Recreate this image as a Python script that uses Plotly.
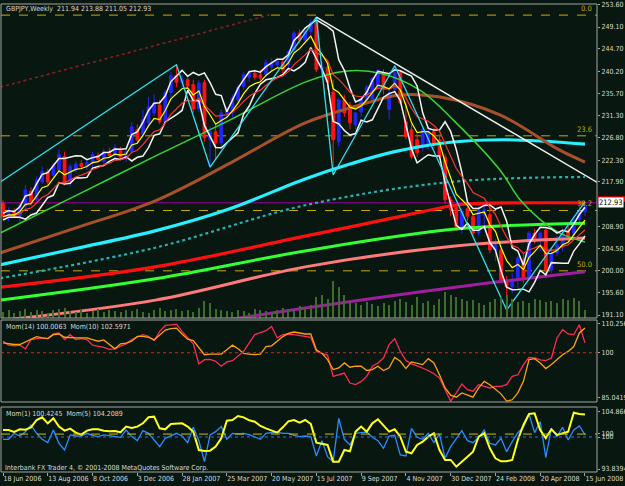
import plotly.graph_objects as go
import pandas as pd

# ---------------- data ----------------
bars = list(range(105))
opens = [213.6,210.9,212.0,211.0,213.0,216.0,214.3,217.9,220.0,219.3,
         220.3,223.0,218.0,220.3,221.6,221.0,221.7,223.2,222.0,224.0,
         223.4,224.2,222.8,224.0,228.4,227.5,229.8,231.8,233.4,230.0,
         235.9,239.3,238.0,238.5,237.5,232.6,237.9,226.4,228.0,225.8,
         231.6,231.8,234.4,237.1,239.0,239.8,239.5,239.6,241.0,241.5,
         242.0,241.5,244.5,247.9,246.5,248.2,250.0,240.5,241.0,236.0,
         226.0,234.4,233.4,229.4,232.0,234.4,234.5,237.2,239.8,232.5,
         236.5,239.9,230.0,228.4,226.4,225.0,225.4,228.0,226.4,222.9,
         214.3,212.8,208.9,212.5,210.9,207.6,211.3,211.3,204.2,204.2,
         197.8,196.8,198.6,202.2,198.8,207.6,206.2,208.2,200.2,203.6,
         204.8,208.2,207.6,210.3,211.94]
highs = [214.2,212.8,212.6,213.6,217.3,216.8,219.0,221.0,220.6,221.8,
         224.5,224.0,221.5,222.0,222.3,222.5,224.0,223.8,224.6,224.8,
         225.5,225.0,224.5,230.0,229.5,232.4,235.0,235.5,234.5,236.5,
         240.0,241.5,239.5,239.0,238.5,238.4,238.5,229.0,229.5,232.5,
         233.0,235.5,237.5,240.0,240.5,240.5,240.5,242.5,242.8,243.0,
         242.6,244.5,248.3,248.6,248.8,250.6,251.1,242.0,241.5,238.5,
         234.8,235.5,234.0,232.0,235.0,237.5,239.0,240.5,240.6,236.5,
         241.3,240.5,234.0,229.5,227.5,229.0,228.5,228.8,227.5,223.5,
         215.0,213.5,212.5,213.8,211.5,213.0,213.5,213.0,206.5,205.0,
         199.0,199.5,203.0,203.5,208.0,208.5,208.0,209.0,204.5,207.0,
         208.5,209.0,211.0,213.0,213.88]
lows = [210.5,210.0,210.8,209.5,212.5,213.2,213.8,217.5,217.3,218.8,
        219.8,217.2,217.0,219.8,220.5,220.3,221.0,221.8,221.6,222.8,
        222.8,222.5,221.9,223.8,225.8,227.0,229.2,231.2,229.5,229.8,
        235.0,237.0,236.5,236.5,231.8,232.0,226.0,220.9,222.5,225.0,
        230.5,231.0,233.8,236.5,238.0,238.5,238.3,239.0,240.3,240.8,
        239.8,241.0,244.0,245.8,246.0,247.6,240.0,238.8,236.5,219.3,
        225.0,231.0,228.5,228.5,231.0,233.5,234.0,236.5,235.5,230.5,
        236.0,233.5,226.5,222.5,223.0,224.0,224.5,224.5,222.5,213.5,
        211.0,208.0,207.5,210.0,207.0,207.0,209.0,203.5,202.0,197.5,
        192.1,195.5,196.5,197.5,198.0,205.5,204.0,199.5,199.5,203.0,
        204.0,206.0,206.5,209.5,211.05]
closes = [210.9,212.0,211.3,213.2,216.3,213.8,218.3,220.0,217.9,221.3,
          223.4,217.7,221.0,221.5,221.0,221.8,223.4,222.4,224.0,223.2,
          224.8,222.9,224.0,229.0,226.4,230.4,233.0,233.8,230.0,235.9,
          239.3,238.0,238.5,237.2,232.6,237.8,226.8,228.0,225.8,231.8,
          232.2,234.8,236.9,239.5,239.8,239.0,238.8,241.9,242.0,242.2,
          240.5,244.1,247.9,246.5,248.2,250.0,240.5,241.0,238.0,226.4,
          234.4,231.8,229.8,231.8,234.4,237.0,238.8,240.4,236.5,235.8,
          239.9,233.8,227.0,223.0,223.8,228.4,228.0,225.5,223.0,214.3,
          212.3,208.9,212.0,211.0,207.6,212.3,212.3,204.2,205.2,198.2,
          196.8,197.8,202.6,198.2,207.6,206.2,207.6,200.2,203.6,205.2,
          207.6,206.8,210.3,212.03,212.93]
volume = [6,8,5,7,9,6,8,7,5,8,
          9,10,7,6,8,5,7,9,6,8,
          7,6,8,7,9,6,5,8,10,7,
          8,9,7,8,6,10,16,14,9,8,
          7,6,8,7,5,9,8,7,6,8,
          10,9,8,11,10,12,20,22,18,35,
          30,22,16,14,12,15,13,11,14,12,
          16,18,15,12,20,14,16,12,18,25,
          22,20,18,16,17,14,12,15,18,20,
          22,18,15,16,14,18,17,15,16,14,
          18,17,19,16,8]

# long moving averages (knots)
ma_cyan_x = [-0.5, 13, 27, 40, 54, 62, 70, 80, 90, 104]
ma_cyan_y = [201.2, 204.5, 208.0, 212.3, 218.5, 221.5, 224.0, 225.9, 226.4, 225.5]
ma_teal_x = [-0.5, 27, 54, 80, 104]
ma_teal_y = [198.5, 204.6, 213.2, 217.9, 218.9]
ma_brown_x = [-0.5, 12.9, 27.2, 40.6, 54.0, 63.8, 70.9, 78.1, 88.8, 99.5, 104]
ma_brown_y = [203.6, 208.6, 214.1, 221.7, 229.8, 233.4, 235.4, 235.0, 231.4, 224.3, 221.9]
ma_lime_x = [-0.5, 12.9, 27.2, 40.6, 54.0, 61.1, 67.4, 74.5, 80.8, 88.8, 92.4, 96.0, 99.5, 104]
ma_lime_y = [207.6, 215.1, 223.1, 230.4, 238.0, 240.2, 239.8, 236.4, 230.0, 220.3, 214.3, 210.3, 207.6, 205.8]
ma_green_x = [-0.5, 27.2, 54.0, 80.8, 104]
ma_green_y = [194.1, 198.4, 204.0, 208.4, 209.6]
ma_red_x = [-0.5, 27.2, 54.0, 67.0, 79.0, 82.0, 104]
ma_red_y = [196.7, 200.8, 207.0, 210.0, 212.85, 213.4, 213.7]
ma_pink_x = [-0.5, 27.2, 54.0, 80.8, 104]
ma_pink_y = [190.0, 194.1, 200.8, 205.0, 206.6]
ma_purple_x = [30, 54.0, 80.8, 104]
ma_purple_y = [188.4, 192.5, 196.7, 199.8]

zigzag_x = [-25, 31, 37, 56, 59, 70, 90, 104]
zigzag_y = [199.5, 241.5, 220.9, 251.1, 219.3, 241.3, 192.1, 213.88]
trend_white_x = [56, 106.2]
trend_white_y = [251.1, 217.8]
trend_dred_x = [-0.5, 48.1]
trend_dred_y = [237.0, 251.7]
hline_purple = 213.7
fib_high, fib_low = 251.5, 148.5
fib_levels = [0.0, 23.6, 38.2, 50.0]

mom14 = [103.5,102.3,102.1,102.3,101.2,104.0,104.3,104.5,104.3,105.7,
         106.0,104.0,105.5,104.0,104.3,104.0,102.3,102.0,101.6,101.0,
         101.2,102.0,102.7,104.0,104.8,105.5,105.0,103.7,106.5,108.3,
         108.5,108.7,106.5,104.7,102.7,96.6,97.9,98.0,97.4,95.9,
         97.2,97.6,98.9,100.4,103.0,105.5,106.1,106.7,108.0,104.5,
         105.5,105.7,105.5,105.3,105.1,104.7,100.4,99.9,99.2,92.8,
         93.3,93.8,90.8,90.3,91.3,92.8,95.9,96.9,98.4,102.5,
         104.3,100.4,97.6,96.6,96.0,95.4,94.6,93.6,92.3,88.8,
         85.3,87.8,90.5,88.8,88.3,90.3,89.8,89.3,89.8,89.8,
         90.3,92.8,93.3,96.4,98.6,98.4,97.8,97.6,98.4,104.5,
         107.0,105.7,105.5,108.5,103.0]
mom10 = [103.0,102.7,102.5,102.5,103.3,104.3,104.9,104.5,104.3,105.5,
         105.7,104.7,104.5,104.5,104.5,104.5,104.0,103.5,103.9,102.5,
         101.2,102.7,102.9,103.5,105.0,105.0,104.7,103.9,105.3,106.9,
         107.3,107.5,105.7,104.1,103.7,101.4,99.4,99.6,99.6,99.6,
         100.9,102.3,101.2,99.8,99.6,99.4,99.6,101.9,102.1,103.5,
         104.9,105.9,106.3,106.0,105.7,105.7,100.9,99.8,97.9,94.9,
         95.4,96.9,95.6,95.9,95.9,94.6,94.9,95.9,94.6,95.4,
         98.6,97.4,95.2,97.2,96.8,96.4,98.2,96.9,93.3,89.3,
         87.1,86.5,87.8,87.1,86.5,89.3,91.3,90.3,88.8,87.5,
         85.3,85.7,87.8,91.3,97.9,98.2,96.9,95.2,96.4,97.9,
         99.4,100.4,101.9,106.0,107.5]
mom5 = [101.31,101.31,100.94,101.44,101.38,101.81,103.18,103.68,102.56,103.49,
        101.94,101.19,101.56,100.81,100.44,101.19,101.44,101.44,101.19,101.06,
        101.13,100.88,101.94,101.69,101.94,102.56,103.68,103.80,101.62,101.44,
        102.44,102.50,102.56,101.94,101.00,97.57,97.39,97.45,98.20,99.76,
        103.06,103.18,103.93,103.68,103.12,102.87,102.06,101.62,101.19,100.81,
        101.81,102.93,103.18,102.68,103.18,102.44,98.95,98.70,98.51,95.39,
        95.39,97.57,97.33,101.00,101.94,101.00,102.56,103.31,102.06,101.00,
        101.44,100.07,97.26,96.95,98.51,99.13,100.07,100.69,97.57,95.71,
        95.71,94.46,95.39,96.33,97.26,100.07,100.69,97.89,96.02,95.46,
        95.46,95.71,99.44,102.25,104.30,104.43,101.31,99.80,101.44,100.40,
        100.70,101.00,104.55,104.30,104.21]
mom1 = [99.57,99.57,100.69,100.19,101.00,102.25,100.69,99.57,98.95,101.31,
        98.82,97.57,100.38,100.19,100.19,100.69,100.32,100.07,100.38,100.19,
        100.00,99.94,101.31,100.07,99.32,101.19,100.69,99.44,98.20,99.76,
        100.19,100.69,100.19,98.95,101.81,99.32,95.39,100.38,101.00,101.94,
        99.57,100.69,100.57,100.69,100.44,99.94,99.57,100.69,100.81,100.94,
        100.69,100.69,100.32,100.07,100.19,100.07,96.45,99.32,96.33,95.39,
        103.49,99.57,98.51,100.69,100.81,100.94,99.94,99.32,97.89,100.19,
        100.32,96.64,96.45,101.62,99.94,99.57,100.69,98.95,100.57,96.02,
        98.20,99.76,101.19,99.32,98.95,99.94,101.31,98.82,98.51,99.76,
        97.26,99.13,100.81,101.81,104.30,100.81,102.87,96.20,101.62,100.07,
        101.81,99.44,101.31,102.06,100.42]

date_idx = [0, 8, 16, 24, 32, 40, 48, 56, 64, 72, 80, 88, 96, 104]
date_labels = ["18 Jun 2006", "13 Aug 2006", "8 Oct 2006", "3 Dec 2006", "28 Jan 2007",
               "25 Mar 2007", "20 May 2007", "15 Jul 2007", "9 Sep 2007", "4 Nov 2007",
               "30 Dec 2007", "24 Feb 2008", "20 Apr 2008", "15 Jun 2008"]
price_ticks = [253.60, 249.10, 244.70, 240.20, 235.70, 231.30, 226.80, 222.30,
               217.90, 208.90, 204.50, 200.00, 195.60, 191.10]

# ---------------- derived indicators ----------------
cs = pd.Series(closes)
ema_fast = cs.ewm(span=5, adjust=False).mean()
ema_slow = cs.ewm(span=10, adjust=False).mean()
mid = cs.rolling(5, min_periods=1).mean()
sd = cs.rolling(5, min_periods=2).std(ddof=0).bfill()
band_up = mid + 1.2 * sd
band_dn = mid - 1.2 * sd
fib_prices = [fib_high - (fib_high - fib_low) * l / 100 for l in fib_levels]

# ---------------- figure ----------------
BG = "#081810"
FONT = "DejaVu Sans Condensed, Liberation Sans Narrow, DejaVu Sans, sans-serif"
TXT = "#d8d8d8"
FIBC = "#c8aa00"

fig = go.Figure()

fig.add_trace(go.Bar(x=bars, y=volume, yaxis="y2", width=0.18,
                     marker=dict(color="#3f6c2c", line=dict(width=0)), hoverinfo="skip"))

def line(x, y, color, width, dash="solid", shape="spline", yaxis="y"):
    fig.add_trace(go.Scatter(x=x, y=y, mode="lines", yaxis=yaxis, hoverinfo="skip",
                             line=dict(color=color, width=width, dash=dash, shape=shape)))

line(ma_purple_x, ma_purple_y, "#a01ea0", 3)
line(ma_pink_x, ma_pink_y, "#ff7a7a", 3)
line(ma_green_x, ma_green_y, "#33ff33", 3)
line(ma_red_x, ma_red_y, "#ff1010", 3.2)
line(ma_teal_x, ma_teal_y, "#2ab0b0", 2.2, dash="dot")
line(ma_cyan_x, ma_cyan_y, "#28f0ff", 3.2)
line(ma_brown_x, ma_brown_y, "#a8502a", 3)
line(ma_lime_x, ma_lime_y, "#3ad23a", 1.5)

fig.add_trace(go.Candlestick(
    x=bars, open=opens, high=highs, low=lows, close=closes,
    increasing=dict(line=dict(color="#2424ff", width=1), fillcolor="#2424ff"),
    decreasing=dict(line=dict(color="#ff1414", width=1), fillcolor="#ff1414"),
    whiskerwidth=0, hoverinfo="skip"))

line(bars, band_up.tolist(), "#f4f4f4", 1.5, shape="linear")
line(bars, band_dn.tolist(), "#f4f4f4", 1.5, shape="linear")
line(bars, ema_slow.tolist(), "#ff3434", 1.2, shape="linear")
line(bars, ema_fast.tolist(), "#ffff00", 1.2, shape="linear")

line(zigzag_x, zigzag_y, "#30e0f0", 1.3, shape="linear")
line(trend_white_x, trend_white_y, "#f0f0f0", 1.5, shape="linear")
line(trend_dred_x, trend_dred_y, "#8a1e1e", 1.6, dash="dot", shape="linear")

line(bars, mom14, "#ff2a55", 1.3, shape="linear", yaxis="y3")
line(bars, mom10, "#ffa010", 1.3, shape="linear", yaxis="y3")
line(bars, mom1, "#2a8cff", 1.3, shape="linear", yaxis="y4")
line(bars, mom5, "#ffff20", 2, shape="linear", yaxis="y4")

# ---------------- layout ----------------
D_MAIN = [0.32627, 0.99153]
D_M2 = [0.14831, 0.32203]
D_M3 = [0.0, 0.13771]
GRAY = "#a4a4a4"
tickfont = dict(family=FONT, size=7, color=TXT)
datefont = dict(family=FONT, size=7, color=TXT)

shapes = []
for d in (D_MAIN, D_M2, D_M3):
    shapes.append(dict(type="rect", xref="paper", yref="paper", x0=0, x1=1, y0=d[0], y1=d[1],
                       line=dict(color=GRAY, width=1), layer="above"))
for p in fib_prices:
    shapes.append(dict(type="line", xref="paper", yref="y", x0=0, x1=1, y0=p, y1=p,
                       line=dict(color=FIBC, width=1, dash="dash"), layer="below"))
shapes.append(dict(type="line", xref="paper", yref="y", x0=0, x1=1, y0=hline_purple, y1=hline_purple,
                   line=dict(color="#a000a0", width=1), layer="below"))
shapes.append(dict(type="line", xref="paper", yref="y3", x0=0, x1=1, y0=100, y1=100,
                   line=dict(color="#c03030", width=1, dash="dot")))
shapes.append(dict(type="line", xref="paper", yref="y4", x0=0, x1=1, y0=100.55, y1=100.55,
                   line=dict(color="#d0c000", width=1, dash="dash")))
shapes.append(dict(type="line", xref="paper", yref="y4", x0=0, x1=1, y0=100, y1=100,
                   line=dict(color="#2a6cff", width=1, dash="dot")))
shapes.append(dict(type="rect", xref="paper", yref="y", x0=1.0, x1=1.047, y0=213.9, y1=215.0,
                   fillcolor="#ff0000", line=dict(width=0)))

annotations = []
def text(x, y, s, yref="paper", xanchor="left", yanchor="middle", color=TXT, size=7, **kw):
    annotations.append(dict(x=x, y=y, xref="paper", yref=yref, text=s, showarrow=False,
                            xanchor=xanchor, yanchor=yanchor,
                            font=dict(family=FONT, size=size, color=color), **kw))

text(0.0050, 0.981, "GBPJPY,Weekly  211.94 213.88 211.05 212.93")
text(0.0050, 0.3072, "Mom(14) 100.0063  Mom(10) 102.5971")
text(0.0050, 0.1229, "Mom(1) 100.4245  Mom(5) 104.2089")
text(0.0035, 0.0085, "Interbank FX Trader 4, © 2001-2008 MetaQuotes Software Corp.")
for lvl, p in zip(fib_levels, fib_prices):
    text(0.995, p, f"{lvl:.1f}", yref="y", xanchor="right", yanchor="bottom", color=FIBC, size=7.5)
annotations.append(dict(x=1.0, y=213.7, xref="paper", yref="y", text="212.93", showarrow=False,
                        xanchor="left", yanchor="middle", xshift=1, bgcolor="#ffffff",
                        borderpad=0, font=dict(family=FONT, size=7.5, color="#000000")))

fig.update_layout(
    width=625, height=486,
    margin=dict(l=1, r=28, t=0, b=14),
    paper_bgcolor=BG, plot_bgcolor=BG,
    showlegend=False, bargap=0,
    shapes=shapes, annotations=annotations,
    xaxis=dict(domain=[0, 1], range=[-0.36, 106.15], anchor="y4",
               tickvals=date_idx, ticktext=date_labels, ticklabelposition="outside right",
               ticklabeloverflow="allow",
               tickangle=0, ticks="outside", ticklen=3, tickcolor=GRAY, tickfont=datefont,
               showgrid=False, zeroline=False, showline=False,
               rangeslider=dict(visible=False), automargin=False, fixedrange=True),
    yaxis=dict(domain=D_MAIN, range=[190.5, 253.74], side="right", anchor="x",
               tickvals=price_ticks, ticktext=[f"{v:.2f}" for v in price_ticks],
               ticks="outside", ticklen=2, tickcolor=GRAY, tickfont=tickfont,
               showgrid=False, zeroline=False, showline=False, automargin=False),
    yaxis2=dict(overlaying="y", range=[0, 300], visible=False, side="right"),
    yaxis3=dict(domain=D_M2, range=[85.03, 109.95], side="right", anchor="x",
                tickvals=[108.74, 100, 86.25], ticktext=["110.2563", "100", "85.0419"],
                ticks="outside", ticklen=2, tickcolor=GRAY, tickfont=tickfont,
                showgrid=False, zeroline=False, showline=False, automargin=False),
    yaxis4=dict(domain=D_M3, range=[93.46, 105.61], side="right", anchor="x",
                tickvals=[104.68, 100.57, 100.0, 94.02],
                ticktext=["104.8661", "100", "100", "93.8394"],
                ticks="outside", ticklen=2, tickcolor=GRAY, tickfont=tickfont,
                showgrid=False, zeroline=False, showline=False, automargin=False),
)

fig.write_html("out.html")
